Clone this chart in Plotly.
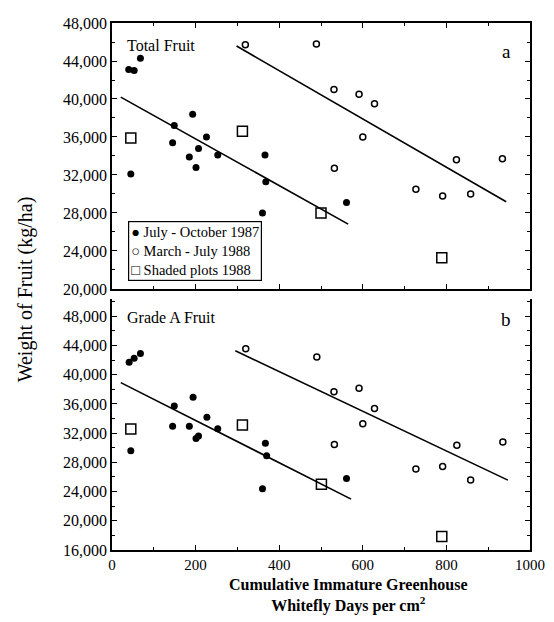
import plotly.graph_objects as go
from plotly.subplots import make_subplots

# ---------------- data ----------------
# Panel a: Total Fruit
a87_x = [40, 53, 68, 149, 145, 193, 185, 207, 201, 226, 253, 45, 366, 368, 360, 561]
a87_y = [43100, 43000, 44300, 37200, 35400, 38400, 33900, 34800, 32800, 36000, 34100, 32100, 34100, 31300, 28000, 29100]
a88_x = [319, 489, 531, 532, 591, 628, 600, 727, 791, 858, 824, 934]
a88_y = [45700, 45800, 41000, 32700, 40500, 39500, 36000, 30500, 29800, 30000, 33600, 33700]
aSh_x = [45, 312, 500, 789]
aSh_y = [35900, 36600, 28000, 23300]
aFit87_x = [21, 565]
aFit87_y = [40200, 26830]
aFit88_x = [298, 943]
aFit88_y = [45580, 29180]

# Panel b: Grade A Fruit
b87_x = [41, 53, 68, 45, 149, 145, 194, 185, 227, 253, 201, 207, 367, 370, 360, 561]
b87_y = [41700, 42250, 42900, 29600, 35700, 32950, 36900, 32950, 34160, 32590, 31280, 31600, 30600, 28900, 24400, 25800]
b88_x = [320, 490, 531, 532, 591, 628, 600, 727, 791, 858, 825, 935]
b88_y = [43550, 42430, 37670, 30430, 38160, 35380, 33300, 27100, 27420, 25570, 30340, 30790]
bSh_x = [45, 312, 501, 789]
bSh_y = [32550, 33130, 24990, 17850]
bFit87_x = [21, 572]
bFit87_y = [38920, 22970]
bFit88_x = [295, 947]
bFit88_y = [43280, 25570]

series_names = ["July - October 1987", "March - July 1988", "Shaded plots 1988"]
legend_symbols = ["\u25CF", "\u25CB", "\u25A1"]
x_ticks = [0, 200, 400, 600, 800, 1000]

FONT = "Liberation Serif"

fig = make_subplots(rows=2, cols=1, shared_xaxes=False, vertical_spacing=0.02)

def add_panel(row, x87, y87, x88, y88, xs, ys, f87x, f87y, f88x, f88y):
    fig.add_trace(go.Scatter(x=f87x, y=f87y, mode="lines", line=dict(color="black", width=1.6),
                             showlegend=False, hoverinfo="skip"), row=row, col=1)
    fig.add_trace(go.Scatter(x=f88x, y=f88y, mode="lines", line=dict(color="black", width=1.6),
                             showlegend=False, hoverinfo="skip"), row=row, col=1)
    fig.add_trace(go.Scatter(x=x87, y=y87, mode="markers", name=series_names[0],
                             marker=dict(symbol="circle", size=7, color="black"),
                             showlegend=False), row=row, col=1)
    fig.add_trace(go.Scatter(x=x88, y=y88, mode="markers", name=series_names[1],
                             marker=dict(symbol="circle-open", size=6, color="black", line=dict(width=1.5)),
                             showlegend=False), row=row, col=1)
    fig.add_trace(go.Scatter(x=xs, y=ys, mode="markers", name=series_names[2],
                             marker=dict(symbol="square-open", size=10, color="black", line=dict(width=1.5)),
                             showlegend=False), row=row, col=1)

add_panel(1, a87_x, a87_y, a88_x, a88_y, aSh_x, aSh_y, aFit87_x, aFit87_y, aFit88_x, aFit88_y)
add_panel(2, b87_x, b87_y, b88_x, b88_y, bSh_x, bSh_y, bFit87_x, bFit87_y, bFit88_x, bFit88_y)

common_x = dict(range=[0, 1000], tickvals=x_ticks, ticks="inside", ticklen=5, tickwidth=1.2,
                tickcolor="black", linecolor="black", linewidth=1.5, showline=True,
                showgrid=False, zeroline=False,
                minor=dict(dtick=100, ticks="inside", ticklen=3, tickcolor="black", tickwidth=1),
                tickfont=dict(family=FONT, size=15, color="black"))
common_y = dict(ticks="inside", ticklen=5, tickwidth=1.2, tickcolor="black",
                linecolor="black", linewidth=1.5, showline=True, showgrid=False, zeroline=False,
                tickformat=",d", dtick=4000, mirror="ticks",
                minor=dict(dtick=2000, ticks="inside", ticklen=3, tickcolor="black", tickwidth=1),
                tickfont=dict(family=FONT, size=16, color="black"))

fig.update_xaxes(**common_x, mirror="ticks", showticklabels=False, row=1, col=1)
fig.update_xaxes(**common_x, mirror=False, showticklabels=True, row=2, col=1)
fig.update_yaxes(**common_y, range=[20000, 48000], tick0=20000, row=1, col=1)
fig.update_yaxes(**common_y, range=[16000, 50390], tick0=16000, row=2, col=1)

# page body has an 8px default margin, so the figure is offset by 8px
fig.update_layout(
    width=546, height=614,
    margin=dict(l=104, r=24, t=7, b=72),
    paper_bgcolor="white", plot_bgcolor="white",
    font=dict(family=FONT, color="black"),
    xaxis=dict(domain=[0, 1]), xaxis2=dict(domain=[0, 1]),
    yaxis=dict(domain=[0.4953, 1]), yaxis2=dict(domain=[0, 0.4766]),
    showlegend=False,
)

legend_text = "<br>".join(f"{s} {n}" for s, n in zip(legend_symbols, series_names))

annotations = [
    dict(text=legend_text, x=0.038, y=0.511, xref="paper", yref="paper",
         xanchor="left", yanchor="bottom", align="left", showarrow=False,
         bordercolor="black", borderwidth=1.2, borderpad=2, bgcolor="white",
         font=dict(family=FONT, size=14.5)),
    dict(text="Total Fruit", x=0.03, y=0.958, xref="paper", yref="paper",
         xanchor="left", yanchor="middle", showarrow=False, font=dict(family=FONT, size=16)),
    dict(text="a", x=0.943, y=0.946, xref="paper", yref="paper",
         xanchor="center", yanchor="middle", showarrow=False, font=dict(family=FONT, size=19)),
    dict(text="Grade A Fruit", x=0.03, y=0.441, xref="paper", yref="paper",
         xanchor="left", yanchor="middle", showarrow=False, font=dict(family=FONT, size=16)),
    dict(text="b", x=0.943, y=0.437, xref="paper", yref="paper",
         xanchor="center", yanchor="middle", showarrow=False, font=dict(family=FONT, size=19)),
    dict(text="Weight of Fruit (kg/ha)", x=-0.205, y=0.4953, xref="paper", yref="paper",
         textangle=-90, xanchor="center", yanchor="middle", showarrow=False,
         font=dict(family=FONT, size=20)),
    dict(text="<b>Cumulative Immature Greenhouse</b><br><b>Whitefly Days per cm<sup>2</sup></b>",
         x=0.565, y=-0.045, xref="paper", yref="paper", xanchor="center", yanchor="top",
         showarrow=False, font=dict(family=FONT, size=16)),
]
fig.update_layout(annotations=annotations)

fig.write_html("out.html")
